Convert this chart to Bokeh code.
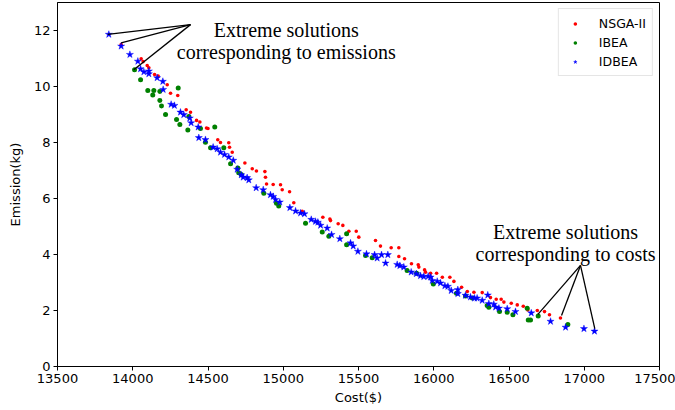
from bokeh.plotting import figure
from bokeh.models import ColumnDataSource, FixedTicker, Range1d, Legend, LegendItem
from bokeh.core.properties import value
from bokeh.embed import file_html
from bokeh.resources import INLINE

# ---- data ----
nsga_cost = [13923, 14056, 14069, 14096, 14107, 14145, 14169, 14229, 14251, 14299, 14355, 14384,
             14424, 14446, 14490, 14500, 14565, 14583, 14638, 14643, 14661, 14745, 14794, 14822,
             14878, 14882, 14889, 14933, 14982, 14993, 15042, 15070, 15126, 15263, 15310, 15314,
             15365, 15396, 15436, 15485, 15502, 15613, 15646, 15717, 15768, 15768, 15806, 15852,
             15897, 15901, 15939, 15945, 15979, 16019, 16057, 16107, 16134, 16185, 16223, 16267,
             16322, 16377, 16415, 16448, 16466, 16515, 16555, 16595, 16625, 16688, 16736, 16769,
             16842]
nsga_emis = [11.50, 10.99, 10.89, 10.75, 10.67, 10.43, 10.37, 10.06, 9.76, 9.68, 9.17, 9.08,
             8.79, 8.73, 8.52, 8.50, 8.10, 8.00, 7.99, 7.83, 7.65, 7.27, 7.06, 6.98,
             6.96, 6.76, 6.52, 6.50, 6.49, 6.31, 6.24, 5.85, 5.54, 5.33, 5.27, 5.21,
             5.10, 5.04, 4.83, 4.83, 4.62, 4.50, 4.30, 4.24, 4.24, 3.93, 3.85, 3.67,
             3.63, 3.55, 3.45, 3.37, 3.33, 3.33, 3.19, 3.19, 3.04, 2.83, 2.68, 2.65,
             2.64, 2.46, 2.40, 2.40, 2.30, 2.26, 2.20, 2.15, 2.02, 2.00, 1.96, 1.85,
             1.73]

ibea_cost = [14012, 14052, 14100, 14133, 14140, 14180, 14180, 14191, 14218, 14291, 14302, 14313,
             14366, 14373, 14450, 14483, 14517, 14545, 14605, 14650, 14698, 14704, 14721, 14871,
             14955, 14970, 15148, 15259, 15303, 15421, 15421, 15547, 15591, 15823, 15886, 15997,
             16151, 16211, 16256, 16355, 16366, 16437, 16488, 16526, 16621, 16628, 16643, 16694,
             16891]
ibea_emis = [10.60, 10.24, 9.86, 9.70, 9.86, 9.82, 9.50, 9.30, 9.00, 8.82, 9.95, 8.64,
             8.45, 8.93, 8.50, 8.01, 7.81, 8.55, 7.81, 7.24, 7.09, 6.92, 6.86, 6.19,
             5.83, 5.73, 5.12, 4.80, 4.65, 4.74, 4.35, 3.96, 3.88, 3.43, 3.33, 2.95,
             2.62, 2.52, 2.45, 2.18, 2.12, 1.96, 1.94, 1.85, 2.08, 1.66, 1.66, 1.80,
             1.50]

idbea_cost = [13841, 13923, 13981, 14034, 14052, 14074, 14107, 14107, 14162, 14200, 14202, 14255,
              14277, 14317, 14339, 14379, 14388, 14435, 14439, 14483, 14534, 14561, 14583, 14610,
              14638, 14668, 14694, 14721, 14734, 14760, 14771, 14820, 14867, 14915, 14933, 14949,
              14977, 15044, 15082, 15115, 15141, 15186, 15214, 15230, 15248, 15292, 15321, 15376,
              15447, 15465, 15496, 15553, 15607, 15624, 15653, 15680, 15695, 15757, 15775, 15801,
              15850, 15884, 15912, 15934, 15963, 15979, 15990, 16023, 16045, 16074, 16094, 16116,
              16160, 16160, 16211, 16244, 16271, 16288, 16322, 16359, 16366, 16399, 16411, 16433,
              16488, 16543, 16648, 16776, 16876, 16998, 17068]
idbea_emis = [11.86, 11.44, 11.14, 10.90, 10.63, 10.52, 10.55, 10.45, 10.31, 10.18, 9.89, 9.36,
              9.32, 9.08, 8.99, 8.87, 8.70, 8.55, 8.17, 8.10, 7.83, 7.77, 7.65, 7.57,
              7.48, 7.36, 7.04, 6.84, 6.76, 6.74, 6.66, 6.38, 6.31, 6.13, 6.07, 5.96,
              5.87, 5.67, 5.55, 5.48, 5.45, 5.25, 5.18, 5.15, 5.04, 4.94, 4.71, 4.56,
              4.41, 4.30, 4.11, 4.02, 3.99, 3.87, 3.99, 3.69, 3.99, 3.64, 3.60, 3.55,
              3.37, 3.31, 3.24, 3.21, 3.22, 3.19, 3.07, 3.04, 2.98, 2.88, 2.86, 2.71,
              2.74, 2.60, 2.54, 2.48, 2.44, 2.44, 2.36, 2.55, 2.24, 2.22, 2.12, 2.08,
              2.06, 1.96, 1.91, 1.61, 1.40, 1.35, 1.26]

x_ticks = [13500, 14000, 14500, 15000, 15500, 16000, 16500, 17000, 17500]
y_ticks = [0, 2, 4, 6, 8, 10, 12]

# annotation pointers (apex -> extreme solutions)
ann_emis_x0 = [14384, 14384, 14384]
ann_emis_y0 = [12.21, 12.21, 12.21]
ann_emis_x1 = [13834, 13923, 14007]
ann_emis_y1 = [11.86, 11.56, 10.60]
ann_cost_x0 = [16975, 16975, 16975]
ann_cost_y0 = [3.61, 3.61, 3.61]
ann_cost_x1 = [16692, 16849, 17070]
ann_cost_y1 = [1.86, 1.82, 1.35]
ann_text = ["Extreme solutions", "corresponding to emissions",
            "Extreme solutions", "corresponding to costs"]
ann_text_x = [15020, 15020, 16876, 16876]
ann_text_y = [12.02, 11.23, 4.80, 4.02]

# ---- figure ----
p = figure(width=675, height=410, output_backend="svg", toolbar_location=None,
           x_range=Range1d(13500, 17500), y_range=Range1d(0, 13),
           min_border_left=57, min_border_right=16, min_border_top=2, min_border_bottom=44)
p.xgrid.visible = False
p.ygrid.visible = False
p.outline_line_color = "black"
p.outline_line_width = 1
p.background_fill_color = "white"
p.border_fill_color = "white"

for ax in (p.xaxis, p.yaxis):
    ax.axis_line_color = "black"
    ax.major_tick_line_color = "black"
    ax.minor_tick_line_color = None
    ax.major_tick_in = 0
    ax.major_tick_out = 4
    ax.major_label_text_font = "DejaVu Sans"
    ax.major_label_text_font_size = "13px"
    ax.major_label_text_color = "black"
    ax.axis_label_text_font = "DejaVu Sans"
    ax.axis_label_text_font_size = "13px"
    ax.axis_label_text_font_style = "normal"
    ax.axis_label_text_color = "black"
p.xaxis.ticker = FixedTicker(ticks=x_ticks)
p.yaxis.ticker = FixedTicker(ticks=y_ticks)
p.xaxis.axis_label = "Cost($)"
p.yaxis.axis_label = "Emission(kg)"
p.xaxis.major_label_standoff = 3
p.yaxis.major_label_standoff = 3
p.xaxis.axis_label_standoff = 4
p.yaxis.axis_label_standoff = 8

r_n = p.scatter(nsga_cost, nsga_emis, marker="circle", size=3.6, fill_color="red", line_color=None)
r_i = p.scatter(ibea_cost, ibea_emis, marker="circle", size=5, fill_color="green", line_color=None)
r_d = p.scatter(idbea_cost, idbea_emis, marker="star", size=7.5, fill_color="blue",
                line_color="blue", line_width=0.4)

p.segment(ann_emis_x0, ann_emis_y0, ann_emis_x1, ann_emis_y1, line_color="black", line_width=1.3)
p.segment(ann_cost_x0, ann_cost_y0, ann_cost_x1, ann_cost_y1, line_color="black", line_width=1.3)

tsrc = ColumnDataSource(dict(x=ann_text_x, y=ann_text_y, t=ann_text))
p.text("x", "y", text="t", source=tsrc, text_align="center", text_baseline="alphabetic",
       text_font=value("Liberation Serif"), text_font_size="20px", text_color="black")

legend = Legend(items=[LegendItem(label="NSGA-II", renderers=[r_n]),
                       LegendItem(label="IBEA", renderers=[r_i]),
                       LegendItem(label="IDBEA", renderers=[r_d])],
                location="top_right")
legend.label_text_font = "DejaVu Sans"
legend.label_text_font_size = "12.5px"
legend.label_text_color = "black"
legend.glyph_width = 20
legend.glyph_height = 9
legend.label_height = 16
legend.spacing = 3
legend.padding = 6
legend.margin = 6
legend.label_standoff = 14
legend.border_line_color = "#cccccc"
legend.border_line_width = 1
legend.background_fill_alpha = 0.8
p.add_layout(legend)

open("out.html", "w").write(file_html(p, INLINE))
